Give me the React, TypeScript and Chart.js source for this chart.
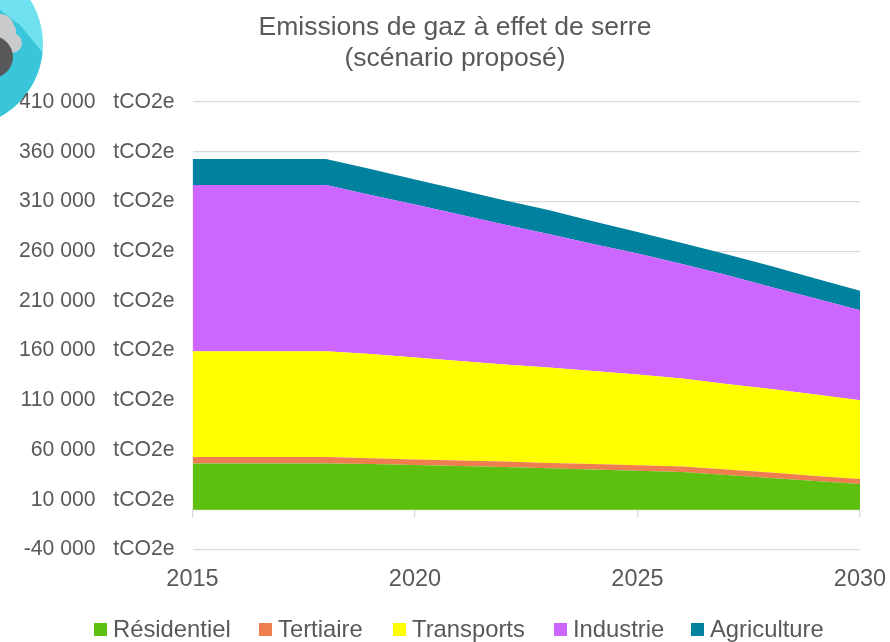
import React, { useEffect, useRef } from "react";
import { Chart, registerables } from "chart.js";

Chart.register(...registerables);

const years = [2015, 2016, 2017, 2018, 2019, 2020, 2021, 2022, 2023, 2024, 2025, 2026, 2027, 2028, 2029, 2030];
const residentiel = [46500, 46500, 46500, 46500, 46000, 45000, 44000, 42900, 41700, 40500, 39200, 37900, 34900, 31900, 28900, 25800];
const tertiaire = [6600, 6600, 6600, 6600, 5700, 5500, 5500, 5500, 5400, 5400, 5400, 5500, 5500, 5500, 5000, 5000];
const transports = [106200, 106200, 106200, 106200, 104900, 102600, 100100, 97700, 95800, 93500, 91300, 88500, 86000, 84000, 82000, 79400];
const industrie = [167200, 167200, 167200, 167200, 159900, 153900, 147300, 140600, 134300, 127700, 121700, 115100, 109600, 102600, 96500, 90500];
const agriculture = [26100, 26100, 26100, 26100, 26100, 25100, 24900, 24600, 24100, 23100, 21600, 21100, 20900, 21100, 20100, 19400];

const seriesNames = ["Résidentiel", "Tertiaire", "Transports", "Industrie", "Agriculture"];
const seriesColors = ["#5EC00E", "#EE7D50", "#FFFF00", "#CC66FF", "#00829F"];
const seriesValues = [residentiel, tertiaire, transports, industrie, agriculture];
const titleLines = ["Emissions de gaz à effet de serre", "(scénario proposé)"];
const FONT = "'Liberation Sans', Arial, sans-serif";
const TEXT = "#595959";

export default function App() {
  const ref = useRef<HTMLCanvasElement>(null);
  useEffect(() => {
    const chart = new Chart(ref.current!, {
      type: "line",
      data: {
        datasets: seriesNames.map((label, i) => ({
          label,
          data: years.map((x, j) => ({ x, y: seriesValues[i][j] })),
          backgroundColor: seriesColors[i],
          borderColor: seriesColors[i],
          borderWidth: 0,
          pointRadius: 0,
          fill: i === 0 ? "origin" : "-1",
        })),
      },
      options: {
        animation: false,
        responsive: false,
        layout: { padding: { left: 20, right: 0, top: 0, bottom: 92.5 } },
        plugins: {
          legend: { display: false },
          tooltip: { enabled: false },
          title: {
            display: true,
            text: titleLines,
            color: TEXT,
            font: { family: FONT, size: 26.5, weight: "normal", lineHeight: 1.17 },
            padding: { top: 12, bottom: 28 },
            position: "top",
          },
        },
        scales: {
          x: {
            type: "linear",
            min: 2015,
            max: 2030,
            position: { y: 0 },
            afterFit: (s: any) => { s.paddingRight = 30; s.paddingLeft = 0; },
            border: { color: "#D9D9D9", width: 1.3 },
            grid: { drawOnChartArea: false, drawTicks: true, tickLength: 7, color: "#D9D9D9", lineWidth: 1.3 },
            ticks: {
              stepSize: 5,
              color: TEXT,
              padding: 49,
              maxRotation: 0,
              font: { family: FONT, size: 23.5 },
              callback: (v: any) => String(v),
            },
          },
          y: {
            stacked: true,
            min: -40000,
            max: 410000,
            afterFit: (s: any) => { s.width = 172.5; },
            border: { display: false },
            grid: { color: "#D9D9D9", lineWidth: 1.3, drawTicks: false },
            ticks: {
              stepSize: 50000,
              color: TEXT,
              padding: 18,
              font: { family: FONT, size: 21.2 },
              callback: (v: any) => {
                const a = Math.abs(v);
                const n = Math.floor(a / 1000) + " " + String(a % 1000).padStart(3, "0");
                return (v < 0 ? "-" : "") + n + "   tCO2e";
              },
            },
          },
        },
      },
    } as any);
    return () => chart.destroy();
  }, []);

  return (
    <div style={{ position: "absolute", left: 0, top: 0, width: 890, height: 642, overflow: "hidden", background: "#fff", fontFamily: FONT }}>
      <svg width={50} height={125} style={{ position: "absolute", left: 0, top: 0 }}>
        <clipPath id="lg"><circle cx={-40} cy={44} r={83} /></clipPath>
        <g clipPath="url(#lg)">
          <rect x={-130} y={-40} width={180} height={170} fill="#6FE1EF" />
          <path d="M43,53 L20,25 L-40,-20 L-40,130 L43,130 Z" fill="#39C6DA" />
          <circle cx={0} cy={28} r={14} fill="#C9CACC" />
          <circle cx={7} cy={31} r={9} fill="#C9CACC" />
          <circle cx={12} cy={43} r={10} fill="#C9CACC" />
          <circle cx={-8} cy={57} r={21} fill="#58585A" />
        </g>
      </svg>
      <canvas ref={ref} width={890} height={642} style={{ position: "absolute", left: 0, top: 0, display: "block" }} />
      {seriesNames.map((n, i) => {
        const boxX = [94, 259, 393, 554, 691][i];
        return (
          <div key={n} style={{ position: "absolute", left: boxX, top: 617, height: 24, whiteSpace: "nowrap", color: TEXT, fontSize: 23.8, lineHeight: "24px" }}>
            <span style={{ position: "absolute", left: 0, top: 6, width: 13, height: 13, background: seriesColors[i] }} />
            <span style={{ marginLeft: 19 }}>{n}</span>
          </div>
        );
      })}
    </div>
  );
}
